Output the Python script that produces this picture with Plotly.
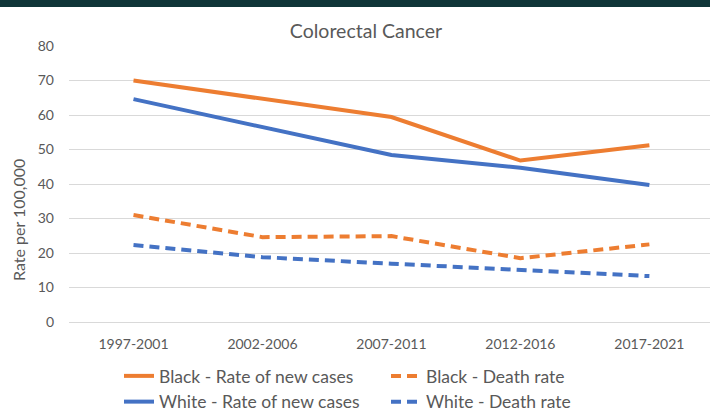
import plotly.graph_objects as go

periods = ["1997-2001", "2002-2006", "2007-2011", "2012-2016", "2017-2021"]
black_new = [70.0, 64.7, 59.4, 46.8, 51.2]
white_new = [64.6, 56.5, 48.4, 44.7, 39.7]
black_death = [31.0, 24.6, 24.9, 18.5, 22.5]
white_death = [22.3, 18.8, 16.9, 15.1, 13.3]

ORANGE = "#ED7D31"
BLUE = "#4472C4"
FONT = "Lato, 'Open Sans', sans-serif"
GREY = "#595959"

fig = go.Figure()
series = [
    ("Black - Rate of new cases", black_new, ORANGE, "solid"),
    ("Black - Death rate", black_death, ORANGE, "10px,6px"),
    ("White - Rate of new cases", white_new, BLUE, "solid"),
    ("White - Death rate", white_death, BLUE, "10px,6px"),
]
for name, vals, col, dash in series:
    fig.add_trace(go.Scatter(
        x=periods, y=vals, name=name, mode="lines",
        line=dict(color=col, width=4, dash=dash),
    ))

W, H = 710, 412
ml, mr, mt, mb = 69, 0, 46, 90
pw, ph = W - ml - mr, H - mt - mb

fig.update_layout(
    width=W, height=H,
    margin=dict(l=ml, r=mr, t=mt, b=mb, pad=0, autoexpand=False),
    paper_bgcolor="white", plot_bgcolor="white",
    font=dict(family=FONT, color=GREY, size=14),
    title=dict(text="Colorectal Cancer", x=(366 - ml) / pw, xref="paper",
               xanchor="center", y=1 - 31 / H, yanchor="middle",
               font=dict(size=19.5, color=GREY, family=FONT)),
    xaxis=dict(range=[-0.5, 4.47], showgrid=False, showline=False,
               ticks="", tickfont=dict(size=14, color=GREY),
               ticklabelstandoff=12),
    yaxis=dict(range=[0, 80], dtick=10, showgrid=True, gridcolor="#d9d9d9",
               gridwidth=1, zeroline=True, zerolinecolor="#d9d9d9",
               zerolinewidth=1, showline=False, ticks="",
               tickfont=dict(size=14, color=GREY), ticklabelstandoff=14),
    legend=dict(orientation="h", x=(119 - ml) / pw, xanchor="left",
                y=-(358 - 322) / ph, yanchor="top", entrywidth=222,
                entrywidthmode="pixels",
                font=dict(size=17.5, color=GREY, family=FONT),
                itemwidth=30, tracegroupgap=0, traceorder="normal",
                bgcolor="rgba(0,0,0,0)"),
    showlegend=True,
)

fig.add_annotation(text="Rate per 100,000", textangle=-90, xref="paper",
                   yref="paper", x=(18 - ml) / pw, y=(322 - 220) / ph,
                   xanchor="center", yanchor="middle", showarrow=False,
                   font=dict(size=16, color=GREY, family=FONT))

fig.add_shape(type="rect", xref="paper", yref="paper",
              x0=-ml / pw, x1=1 + 1 / pw,
              y0=1 + (mt - 7) / ph, y1=1 + mt / ph + 0.01,
              fillcolor="#0f3538", line=dict(width=0), layer="above")

fig.write_html("out.html", config={"displayModeBar": False},
               post_script="document.body.style.margin='0';"
                           "document.body.style.padding='0';")
